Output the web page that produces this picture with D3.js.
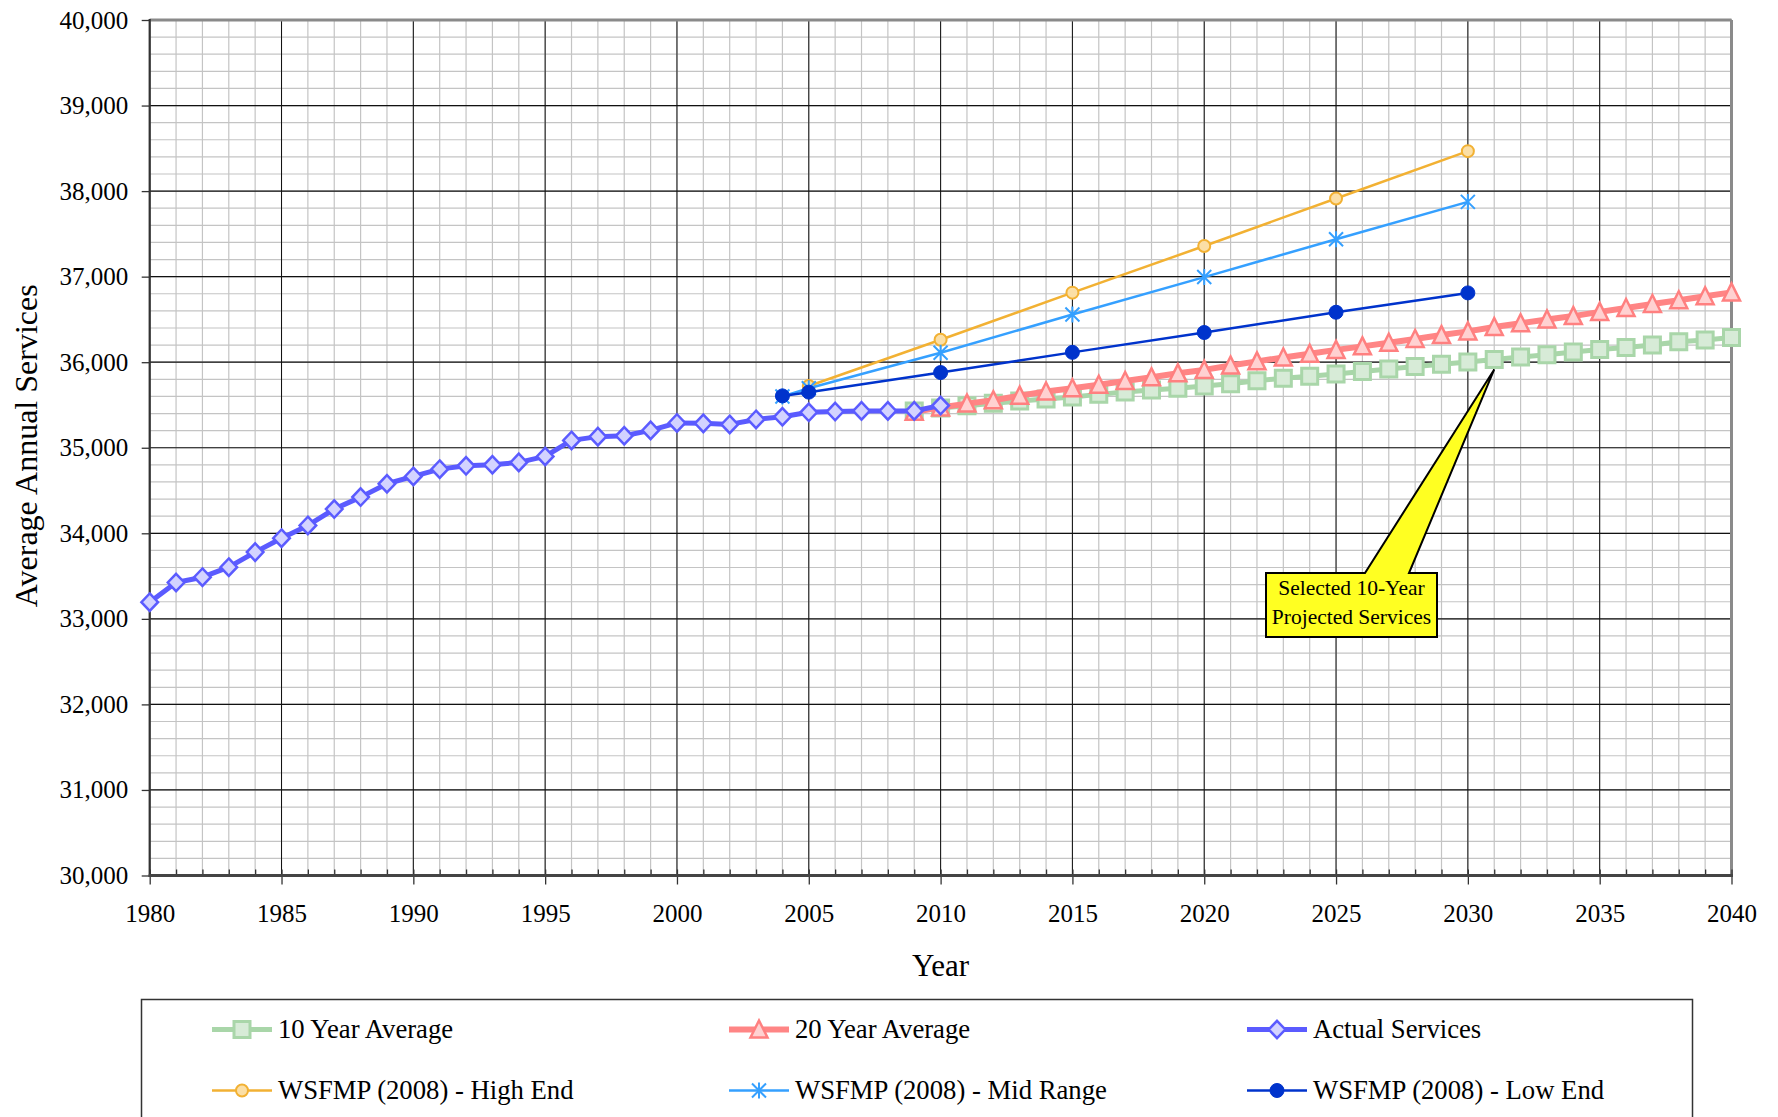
<!DOCTYPE html>
<html><head><meta charset="utf-8">
<script src="https://cdn.jsdelivr.net/npm/d3@7"></script>
<style>
body{margin:0;background:#fff}
svg{display:block}
text{font-family:"Liberation Serif","Times New Roman",serif;fill:#000}
</style>
</head><body>
<svg id="chart" width="1778" height="1117"></svg>
<script>
// ---------------- DATA ----------------
const actualYears = [1980,1981,1982,1983,1984,1985,1986,1987,1988,1989,1990,1991,1992,1993,1994,1995,1996,1997,1998,1999,2000,2001,2002,2003,2004,2005,2006,2007,2008,2009,2010];
const actualValues = [33195,33425,33487,33604,33780,33943,34092,34283,34423,34579,34665,34750,34789,34801,34829,34899,35086,35130,35140,35203,35290,35285,35273,35331,35362,35414,35423,35431,35431,35431,35493];

const projYears = [2009,2010,2011,2012,2013,2014,2015,2016,2017,2018,2019,2020,2021,2022,2023,2024,2025,2026,2027,2028,2029,2030,2031,2032,2033,2034,2035,2036,2037,2038,2039,2040];
const tenYearValues = [35431,35466,35490,35520,35546,35570,35593,35624,35651,35675,35696,35722,35749,35782,35813,35836,35862,35891,35920,35949,35975,36002,36032,36060,36086,36119,36148,36173,36202,36238,36259,36290];
const twentyYearValues = [35420,35470,35516,35556,35609,35657,35696,35737,35780,35823,35870,35910,35962,36010,36055,36099,36144,36185,36228,36271,36317,36360,36411,36456,36500,36539,36588,36633,36681,36724,36771,36816];

const wsfmpYears = [2004,2005,2010,2015,2020,2025,2030];
const lowValues = [35606,35650,35879,36115,36347,36584,36810];
const midValues = [35600,35695,36111,36558,36995,37437,37874];
const highYears = [2005,2010,2015,2020,2025,2030];
const highValues = [35722,36262,36813,37358,37914,38467];

const xTickLabels = [1980,1985,1990,1995,2000,2005,2010,2015,2020,2025,2030,2035,2040];
const yTickLabels = [30000,31000,32000,33000,34000,35000,36000,37000,38000,39000,40000];

const legendLabels = ["10 Year Average","20 Year Average","Actual Services","WSFMP (2008) - High End","WSFMP (2008) - Mid Range","WSFMP (2008) - Low End"];
const calloutLines = ["Selected 10-Year","Projected Services"];
const calloutYear = 2031;

// ---------------- LAYOUT ----------------
const svg = d3.select("#chart");
const L = 149.7, R = 1731.5, T = 20, B = 875.5;
const x = d3.scaleLinear().domain([1980,2040]).range([L,R]);
const y = d3.scaleLinear().domain([30000,40000]).range([B,T]);

const styles = {
  ten:   {line:"#A9D6A9", fill:"#D7EBD7", stroke:"#A9D6A9", lw:5},
  twenty:{line:"#FF8585", fill:"#FFD1D1", stroke:"#FF8080", lw:6},
  actual:{line:"#5B5BFF", fill:"#D3D3FF", stroke:"#5B5BFF", lw:5},
  high:  {line:"#F2B133", fill:"#FBDFA6", stroke:"#F2B133", lw:2.5},
  mid:   {line:"#35A0FF", fill:"none",    stroke:"#35A0FF", lw:2.5},
  low:   {line:"#0033CC", fill:"#0033CC", stroke:"#0033CC", lw:2.5}
};
const markerPath = {
  square: "M-8,-8h16v16h-16Z",
  triangle: "M0,-9L8.5,8L-8.5,8Z",
  diamond: "M0,-8.7L8.3,0L0,8.7L-8.3,0Z",
  circle: "M6,0A6,6 0 1,1 -6,0A6,6 0 1,1 6,0Z",
  dot: "M7,0A7,7 0 1,1 -7,0A7,7 0 1,1 7,0Z",
  star: "M0,-8V8M-7,-7L7,7M-7,7L7,-7"
};
const markerStroke = {square:3, triangle:2.5, diamond:2.5, circle:2, dot:1, star:2};

// grid
const grid = svg.append("g");
grid.selectAll(".vmin").data(d3.range(1980,2041,1)).enter().append("line")
  .attr("x1",d=>x(d)).attr("x2",d=>x(d)).attr("y1",T).attr("y2",B)
  .attr("stroke","#c4c4c4").attr("stroke-width",1.2);
grid.selectAll(".hmin").data(d3.range(30000,40001,200)).enter().append("line")
  .attr("x1",L).attr("x2",R).attr("y1",d=>y(d)).attr("y2",d=>y(d))
  .attr("stroke","#c4c4c4").attr("stroke-width",1.2);
grid.selectAll(".vmaj").data(xTickLabels).enter().append("line")
  .attr("x1",d=>x(d)).attr("x2",d=>x(d)).attr("y1",T).attr("y2",B)
  .attr("stroke","#111").attr("stroke-width",1);
grid.selectAll(".hmaj").data(yTickLabels).enter().append("line")
  .attr("x1",L).attr("x2",R).attr("y1",d=>y(d)).attr("y2",d=>y(d))
  .attr("stroke","#111").attr("stroke-width",1.2);

// frame
svg.append("line").attr("x1",L).attr("x2",R).attr("y1",T).attr("y2",T).attr("stroke","#8a8a8a").attr("stroke-width",3);
svg.append("line").attr("x1",R).attr("x2",R).attr("y1",T).attr("y2",B).attr("stroke","#8a8a8a").attr("stroke-width",3);

// axes
const xAxis = svg.append("g").attr("transform",`translate(0,${B})`)
  .call(d3.axisBottom(x).tickValues(xTickLabels).tickFormat(d3.format("d")).tickSize(9).tickPadding(20));
const xMinor = svg.append("g").attr("transform",`translate(0,${B})`)
  .call(d3.axisBottom(x).tickValues(d3.range(1980,2041,1)).tickFormat("").tickSize(-6));
const yAxis = svg.append("g").attr("transform",`translate(${L},0)`)
  .call(d3.axisLeft(y).tickValues(yTickLabels).tickFormat(d3.format(",")).tickSize(8).tickPadding(13.5));
[xAxis,xMinor,yAxis].forEach(g=>{
  g.select(".domain").remove();
  g.selectAll(".tick line").attr("stroke","#333").attr("stroke-width",1.3);
  g.selectAll("text").style("font-family",'"Liberation Serif","Times New Roman",serif').style("font-size","25px").attr("fill","#000");
});
svg.append("line").attr("x1",L).attr("x2",L).attr("y1",T-1).attr("y2",B+1.5).attr("stroke","#333").attr("stroke-width",2.2);
svg.append("line").attr("x1",L-1).attr("x2",R+1.5).attr("y1",B).attr("y2",B).attr("stroke","#444").attr("stroke-width",3);

// axis titles
svg.append("text").attr("x",(L+R)/2).attr("y",976).attr("text-anchor","middle").style("font-size","31px").text("Year");
svg.append("text").attr("transform",`translate(37,${(T+B)/2 - 2}) rotate(-90)`).attr("text-anchor","middle").style("font-size","32px").text("Average Annual Services");

// series
function drawSeries(xs, vs, st, marker){
  const g = svg.append("g");
  const pts = xs.map((d,i)=>[d,vs[i]]);
  g.append("path").datum(pts)
    .attr("d", d3.line().x(d=>x(d[0])).y(d=>y(d[1])))
    .attr("fill","none").attr("stroke",st.line).attr("stroke-width",st.lw).attr("stroke-linejoin","round");
  g.selectAll(".m").data(pts).enter().append("path")
    .attr("transform",d=>`translate(${x(d[0])},${y(d[1])})`)
    .attr("d",markerPath[marker])
    .attr("fill",marker==="star"?"none":st.fill)
    .attr("stroke",st.stroke).attr("stroke-width",markerStroke[marker]);
}
drawSeries(projYears, tenYearValues, styles.ten, "square");
drawSeries(projYears, twentyYearValues, styles.twenty, "triangle");
drawSeries(actualYears, actualValues, styles.actual, "diamond");
drawSeries(highYears, highValues, styles.high, "circle");
drawSeries(wsfmpYears, midValues, styles.mid, "star");
drawSeries(wsfmpYears, lowValues, styles.low, "dot");

// callout
const tipX = x(calloutYear), tipY = y(tenYearValues[projYears.indexOf(calloutYear)]) + 10;
const bx0 = 1266, bx1 = 1437, by0 = 573, by1 = 637;
const p1 = 1365, p2 = 1409;
svg.append("path")
  .attr("d",`M${bx0},${by0}L${p1},${by0}L${tipX},${tipY}L${p2},${by0}L${bx1},${by0}L${bx1},${by1}L${bx0},${by1}Z`)
  .attr("fill","#FFFF22").attr("stroke","#000").attr("stroke-width",2).attr("stroke-linejoin","miter");
svg.selectAll(".ct").data(calloutLines).enter().append("text")
  .attr("x",(bx0+bx1)/2).attr("y",(d,i)=>595+i*28.5).attr("text-anchor","middle")
  .style("font-size","21.5px").text(d=>d);

// legend
svg.append("rect").attr("x",141.5).attr("y",999.5).attr("width",1551).attr("height",200)
  .attr("fill","#fff").attr("stroke","#333").attr("stroke-width",1.5);
const legendItems = [
  {st:styles.ten, m:"square"},{st:styles.twenty, m:"triangle"},{st:styles.actual, m:"diamond"},
  {st:styles.high, m:"circle"},{st:styles.mid, m:"star"},{st:styles.low, m:"dot"}
];
const colX = [212, 729, 1247], rowY = [1029.5, 1090.5];
legendItems.forEach((it,i)=>{
  const cx = colX[i%3], cy = rowY[Math.floor(i/3)];
  const g = svg.append("g");
  g.append("line").attr("x1",cx).attr("x2",cx+60).attr("y1",cy).attr("y2",cy)
    .attr("stroke",it.st.line).attr("stroke-width",it.st.lw);
  g.append("path").attr("transform",`translate(${cx+30},${cy})`).attr("d",markerPath[it.m])
    .attr("fill",it.m==="star"?"none":it.st.fill).attr("stroke",it.st.stroke).attr("stroke-width",markerStroke[it.m]);
  g.append("text").attr("x",cx+66).attr("y",cy+8.5).style("font-size","26.7px").text(legendLabels[i]);
});
</script>
</body></html>
